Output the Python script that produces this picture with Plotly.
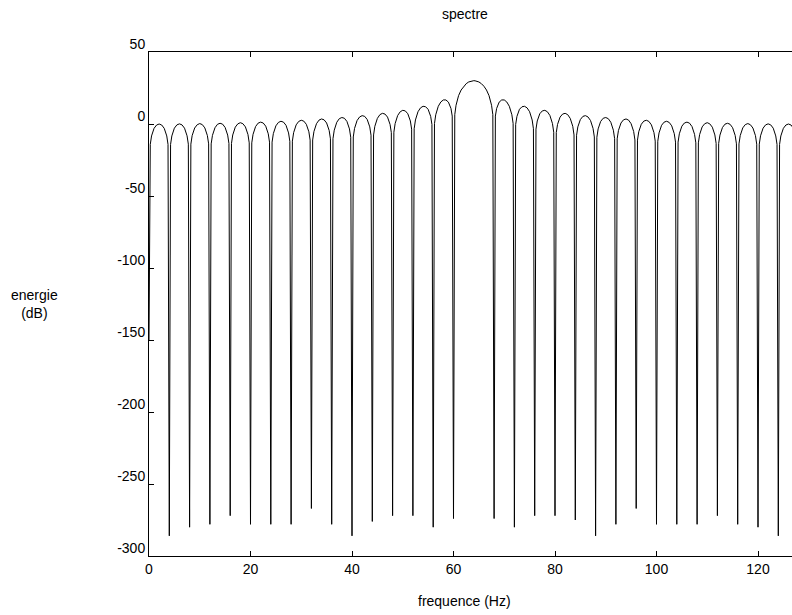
import plotly.graph_objects as go

# Sample offsets (Hz) inside each 4 Hz lobe
offsets_hz = [0, 0.25, 0.5, 1, 1.5, 2, 2.5, 3, 3.5, 3.75]
lobe_start_hz = [4 * k for k in range(32)]

# Energy (dB), one row per lobe (first value = null depth / main peak)
lobe_db = [
    [-150, -14.2, -8.3, -3.0, -0.7, 0.0, -0.7, -3.0, -8.3, -14.2],
    [-286, -14.2, -8.3, -2.9, -0.6, 0.1, -0.6, -2.9, -8.2, -14.0],
    [-280, -14.0, -8.1, -2.8, -0.5, 0.3, -0.4, -2.7, -8.0, -13.8],
    [-278, -13.8, -7.9, -2.6, -0.2, 0.5, -0.1, -2.4, -7.7, -13.5],
    [-272, -13.5, -7.6, -2.2, 0.1, 0.9, 0.2, -2.0, -7.3, -13.1],
    [-278, -13.1, -7.2, -1.8, 0.6, 1.3, 0.7, -1.5, -6.8, -12.6],
    [-278, -12.6, -6.7, -1.3, 1.1, 1.9, 1.3, -0.9, -6.2, -12.0],
    [-278, -11.9, -6.0, -0.6, 1.8, 2.6, 2.0, -0.2, -5.4, -11.2],
    [-267, -11.1, -5.2, 0.2, 2.7, 3.5, 2.9, 0.7, -4.5, -10.3],
    [-278, -10.2, -4.3, 1.2, 3.7, 4.5, 4.0, 1.8, -3.4, -9.2],
    [-286, -9.0, -3.1, 2.4, 4.9, 5.8, 5.3, 3.1, -2.0, -7.8],
    [-276, -7.6, -1.6, 3.9, 6.5, 7.4, 6.9, 4.8, -0.3, -6.0],
    [-272, -5.7, 0.3, 5.9, 8.5, 9.5, 9.1, 7.1, 2.1, -3.6],
    [-272, -3.3, 2.8, 8.5, 11.2, 12.3, 12.0, 10.2, 5.3, -0.3],
    [-280, 0.3, 6.4, 12.3, 15.3, 16.7, 16.7, 15.2, 10.8, 5.5],
    [-274, 6.5, 13.0, 19.7, 23.6, 26.2, 28.0, 29.2, 29.9, 30.0],
    [30.1, 30.0, 29.9, 29.2, 28.0, 26.2, 23.6, 19.7, 13.0, 6.5],
    [-274, 5.5, 10.8, 15.2, 16.7, 16.7, 15.3, 12.3, 6.4, 0.3],
    [-280, -0.3, 5.3, 10.2, 12.0, 12.3, 11.2, 8.5, 2.8, -3.3],
    [-272, -3.6, 2.1, 7.1, 9.1, 9.5, 8.5, 5.9, 0.3, -5.7],
    [-272, -6.0, -0.3, 4.8, 6.9, 7.4, 6.5, 3.9, -1.6, -7.6],
    [-275, -7.8, -2.0, 3.1, 5.3, 5.8, 4.9, 2.4, -3.1, -9.0],
    [-286, -9.2, -3.4, 1.8, 4.0, 4.5, 3.7, 1.2, -4.3, -10.2],
    [-278, -10.3, -4.5, 0.7, 2.9, 3.5, 2.7, 0.2, -5.2, -11.1],
    [-267, -11.2, -5.4, -0.2, 2.0, 2.6, 1.8, -0.6, -6.0, -11.9],
    [-278, -12.0, -6.2, -0.9, 1.3, 1.9, 1.1, -1.3, -6.7, -12.6],
    [-278, -12.6, -6.8, -1.5, 0.7, 1.3, 0.6, -1.8, -7.2, -13.1],
    [-278, -13.1, -7.3, -2.0, 0.2, 0.9, 0.1, -2.2, -7.6, -13.5],
    [-272, -13.5, -7.7, -2.4, -0.1, 0.5, -0.2, -2.6, -7.9, -13.8],
    [-278, -13.8, -8.0, -2.7, -0.4, 0.3, -0.5, -2.8, -8.1, -14.0],
    [-280, -14.0, -8.2, -2.9, -0.6, 0.1, -0.6, -2.9, -8.3, -14.2],
    [-286, -14.2, -8.3, -3.0, -0.7, 0.0, -0.7, -3.0, -8.3, -14.2],
]
end_freq_hz = 128
end_db = -150

x_ticks = [0, 20, 40, 60, 80, 100, 120]
y_ticks = [-300, -250, -200, -150, -100, -50, 0, 50]

freq = []
energy = []
for start, row in zip(lobe_start_hz, lobe_db):
    for off, v in zip(offsets_hz, row):
        freq.append(start + off)
        energy.append(v)
freq.append(end_freq_hz)
energy.append(end_db)

FONT = "Liberation Sans, Arial, Helvetica, sans-serif"
FS = 14

fig = go.Figure(
    go.Scatter(x=freq, y=energy, mode="lines",
               line=dict(color="black", width=1), hoverinfo="skip")
)

fig.update_layout(
    width=792, height=615,
    margin=dict(l=149, r=0, t=52, b=59),
    plot_bgcolor="white", paper_bgcolor="white",
    showlegend=False,
    font=dict(family=FONT, size=FS, color="black"),
)

fig.update_xaxes(
    range=[0, 126.7], tickvals=x_ticks, ticktext=[str(t) for t in x_ticks],
    ticks="inside", ticklen=5, tickcolor="black", tickwidth=1,
    showline=True, linecolor="black", linewidth=1, mirror="ticks",
    showgrid=False, zeroline=False,
    tickfont=dict(family=FONT, size=FS, color="black"),
)
fig.update_yaxes(
    range=[-300, 50], tickvals=y_ticks, ticktext=[str(t) for t in y_ticks],
    ticks="inside", ticklen=5, tickcolor="black", tickwidth=1,
    showline=True, linecolor="black", linewidth=1, mirror=False,
    showgrid=False, zeroline=False, ticklabelshift=-8,
    tickfont=dict(family=FONT, size=FS, color="black"),
)

fig.add_annotation(text="spectre", x=62.3, xref="x", y=1.0754, yref="paper",
                   showarrow=False, xanchor="center", yanchor="middle",
                   font=dict(family=FONT, size=FS, color="black"))
fig.add_annotation(text="frequence (Hz)", x=0.4914, xref="paper", y=-0.0893, yref="paper",
                   showarrow=False, xanchor="center", yanchor="middle",
                   font=dict(family=FONT, size=FS, color="black"))
fig.add_annotation(text="energie<br>(dB)", x=-0.1773, xref="paper", y=0.5, yref="paper",
                   showarrow=False, xanchor="center", yanchor="middle",
                   font=dict(family=FONT, size=FS, color="black"))

fig.write_html(
    "out.html",
    config={"displayModeBar": False},
    post_script="document.body.style.margin='0';document.body.style.overflow='hidden';",
)
